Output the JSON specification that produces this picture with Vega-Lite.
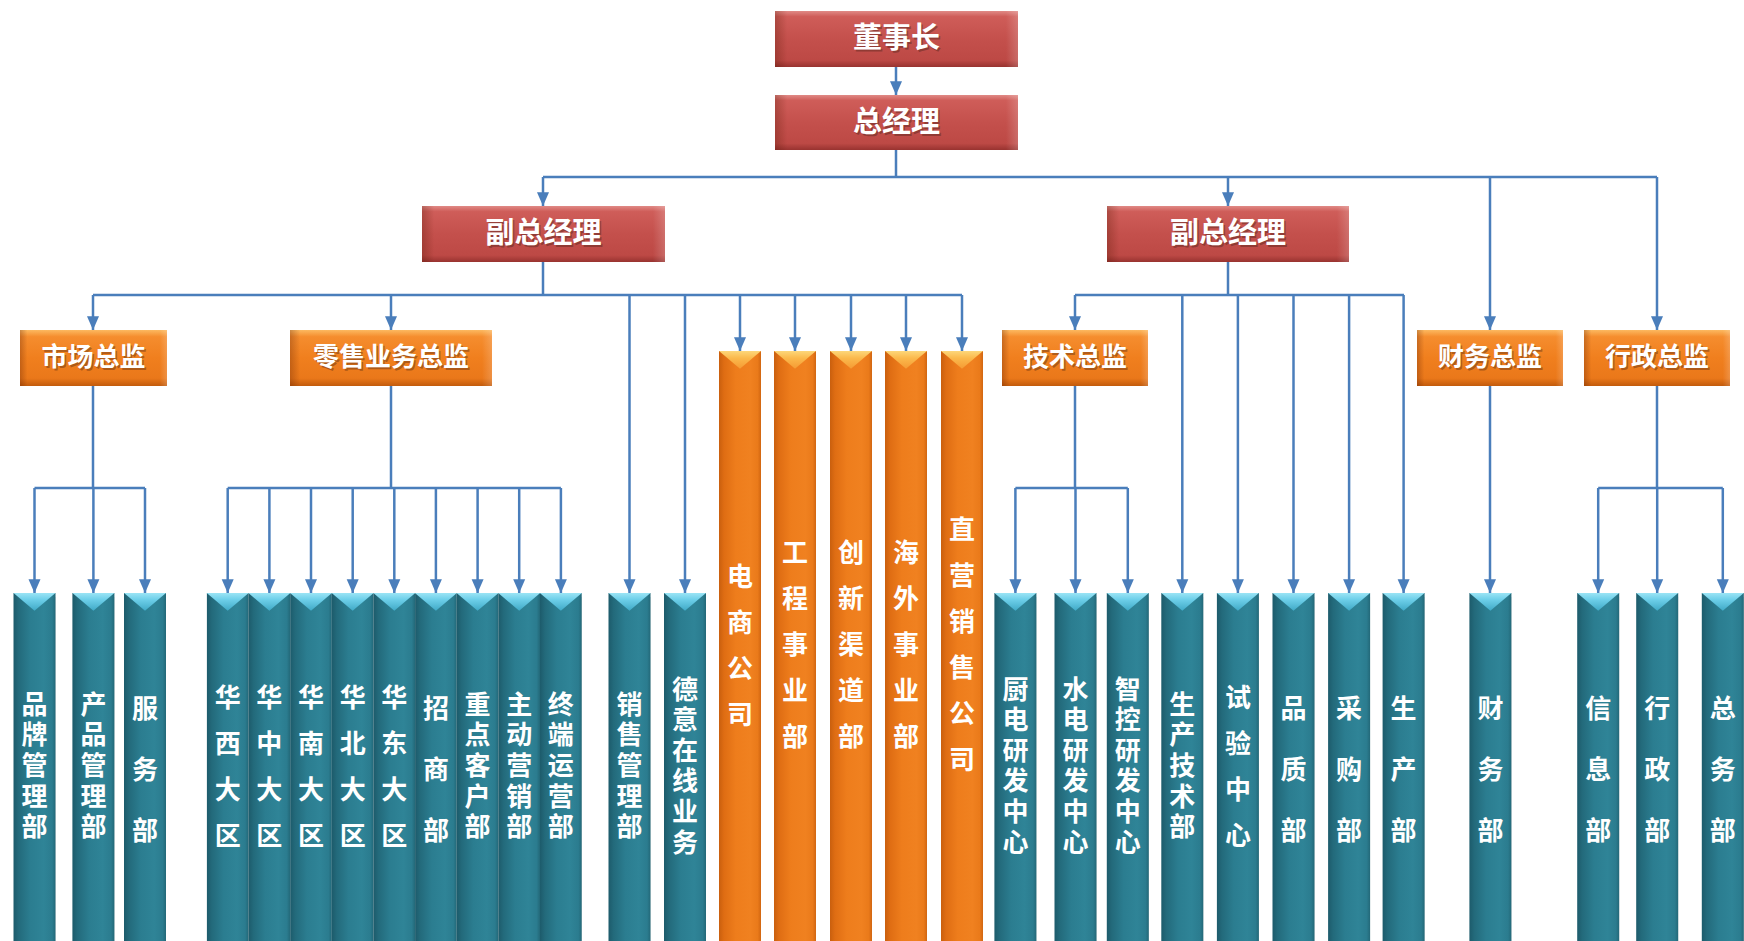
{
  "$schema": "https://vega.github.io/schema/vega-lite/v6.json",
  "autosize": {"type": "fit", "contains": "padding"},
  "width": 1744,
  "height": 941,
  "padding": 0,
  "background": "#ffffff",
  "config": {"view": {"stroke": null}},
  "datasets": {
    "nodes": [
      {"name": "董事长", "kind": "red", "x1": 775, "x2": 1018, "y1": 11, "y2": 67},
      {"name": "总经理", "kind": "red", "x1": 775, "x2": 1018, "y1": 95, "y2": 150},
      {"name": "副总经理", "kind": "red", "x1": 422, "x2": 665, "y1": 206, "y2": 262},
      {"name": "副总经理", "kind": "red", "x1": 1107, "x2": 1349, "y1": 206, "y2": 262},
      {"name": "市场总监", "kind": "obox", "x1": 20, "x2": 167, "y1": 330, "y2": 386},
      {"name": "零售业务总监", "kind": "obox", "x1": 290, "x2": 492, "y1": 330, "y2": 386},
      {"name": "技术总监", "kind": "obox", "x1": 1002, "x2": 1148, "y1": 330, "y2": 386},
      {"name": "财务总监", "kind": "obox", "x1": 1417, "x2": 1563, "y1": 330, "y2": 386},
      {"name": "行政总监", "kind": "obox", "x1": 1584, "x2": 1730, "y1": 330, "y2": 386},
      {"name": "电商公司", "kind": "obar", "x1": 719, "x2": 761, "y1": 351, "y2": 941},
      {"name": "工程事业部", "kind": "obar", "x1": 774, "x2": 816, "y1": 351, "y2": 941},
      {"name": "创新渠道部", "kind": "obar", "x1": 830, "x2": 872, "y1": 351, "y2": 941},
      {"name": "海外事业部", "kind": "obar", "x1": 885, "x2": 927, "y1": 351, "y2": 941},
      {"name": "直营销售公司", "kind": "obar", "x1": 941, "x2": 983, "y1": 351, "y2": 941},
      {"name": "品牌管理部", "kind": "tbar", "x1": 13.5, "x2": 55.5, "y1": 593, "y2": 941},
      {"name": "产品管理部", "kind": "tbar", "x1": 72.4, "x2": 114.4, "y1": 593, "y2": 941},
      {"name": "服务部", "kind": "tbar", "x1": 124, "x2": 166, "y1": 593, "y2": 941},
      {"name": "华西大区", "kind": "tbar", "x1": 206.9, "x2": 248.5, "y1": 593, "y2": 941},
      {"name": "华中大区", "kind": "tbar", "x1": 248.5, "x2": 290.2, "y1": 593, "y2": 941},
      {"name": "华南大区", "kind": "tbar", "x1": 290.2, "x2": 331.8, "y1": 593, "y2": 941},
      {"name": "华北大区", "kind": "tbar", "x1": 331.8, "x2": 373.5, "y1": 593, "y2": 941},
      {"name": "华东大区", "kind": "tbar", "x1": 373.5, "x2": 415.1, "y1": 593, "y2": 941},
      {"name": "招商部", "kind": "tbar", "x1": 415.1, "x2": 456.7, "y1": 593, "y2": 941},
      {"name": "重点客户部", "kind": "tbar", "x1": 456.7, "x2": 498.4, "y1": 593, "y2": 941},
      {"name": "主动营销部", "kind": "tbar", "x1": 498.4, "x2": 540.0, "y1": 593, "y2": 941},
      {"name": "终端运营部", "kind": "tbar", "x1": 540.0, "x2": 581.7, "y1": 593, "y2": 941},
      {"name": "销售管理部", "kind": "tbar", "x1": 608.5, "x2": 650.5, "y1": 593, "y2": 941},
      {"name": "德意在线业务", "kind": "tbar", "x1": 664, "x2": 706, "y1": 593, "y2": 941},
      {"name": "厨电研发中心", "kind": "tbar", "x1": 994.4, "x2": 1036.4, "y1": 593, "y2": 941},
      {"name": "水电研发中心", "kind": "tbar", "x1": 1054.5, "x2": 1096.5, "y1": 593, "y2": 941},
      {"name": "智控研发中心", "kind": "tbar", "x1": 1106.8, "x2": 1148.8, "y1": 593, "y2": 941},
      {"name": "生产技术部", "kind": "tbar", "x1": 1161.3, "x2": 1203.3, "y1": 593, "y2": 941},
      {"name": "试验中心", "kind": "tbar", "x1": 1216.9, "x2": 1258.9, "y1": 593, "y2": 941},
      {"name": "品质部", "kind": "tbar", "x1": 1272.5, "x2": 1314.5, "y1": 593, "y2": 941},
      {"name": "采购部", "kind": "tbar", "x1": 1328.1, "x2": 1370.1, "y1": 593, "y2": 941},
      {"name": "生产部", "kind": "tbar", "x1": 1382.6, "x2": 1424.6, "y1": 593, "y2": 941},
      {"name": "财务部", "kind": "tbar", "x1": 1469.4, "x2": 1511.4, "y1": 593, "y2": 941},
      {"name": "信息部", "kind": "tbar", "x1": 1577.2, "x2": 1619.2, "y1": 593, "y2": 941},
      {"name": "行政部", "kind": "tbar", "x1": 1636.2, "x2": 1678.2, "y1": 593, "y2": 941},
      {"name": "总务部", "kind": "tbar", "x1": 1701.8, "x2": 1743.8, "y1": 593, "y2": 941}
    ],
    "links": [
      {"x": 896, "y": 67, "x2": 896, "y2": 95, "a": 1},
      {"x": 896, "y": 150, "x2": 896, "y2": 177, "a": 0},
      {"x": 543, "y": 177, "x2": 1657, "y2": 177, "a": 0},
      {"x": 543, "y": 177, "x2": 543, "y2": 206, "a": 1},
      {"x": 1228, "y": 177, "x2": 1228, "y2": 206, "a": 1},
      {"x": 1490, "y": 177, "x2": 1490, "y2": 330, "a": 1},
      {"x": 1657, "y": 177, "x2": 1657, "y2": 330, "a": 1},
      {"x": 543, "y": 262, "x2": 543, "y2": 295, "a": 0},
      {"x": 93, "y": 295, "x2": 962, "y2": 295, "a": 0},
      {"x": 93, "y": 295, "x2": 93, "y2": 330, "a": 1},
      {"x": 391, "y": 295, "x2": 391, "y2": 330, "a": 1},
      {"x": 629.5, "y": 295, "x2": 629.5, "y2": 593, "a": 1},
      {"x": 685, "y": 295, "x2": 685, "y2": 593, "a": 1},
      {"x": 740, "y": 295, "x2": 740, "y2": 351, "a": 1},
      {"x": 795, "y": 295, "x2": 795, "y2": 351, "a": 1},
      {"x": 851, "y": 295, "x2": 851, "y2": 351, "a": 1},
      {"x": 906, "y": 295, "x2": 906, "y2": 351, "a": 1},
      {"x": 962, "y": 295, "x2": 962, "y2": 351, "a": 1},
      {"x": 1228, "y": 262, "x2": 1228, "y2": 295, "a": 0},
      {"x": 1075, "y": 295, "x2": 1404, "y2": 295, "a": 0},
      {"x": 1075, "y": 295, "x2": 1075, "y2": 330, "a": 1},
      {"x": 1182.3, "y": 295, "x2": 1182.3, "y2": 593, "a": 1},
      {"x": 1237.9, "y": 295, "x2": 1237.9, "y2": 593, "a": 1},
      {"x": 1293.5, "y": 295, "x2": 1293.5, "y2": 593, "a": 1},
      {"x": 1349.1, "y": 295, "x2": 1349.1, "y2": 593, "a": 1},
      {"x": 1403.6, "y": 295, "x2": 1403.6, "y2": 593, "a": 1},
      {"x": 93, "y": 386, "x2": 93, "y2": 488, "a": 0},
      {"x": 34.5, "y": 488, "x2": 145, "y2": 488, "a": 0},
      {"x": 34.5, "y": 488, "x2": 34.5, "y2": 593, "a": 1},
      {"x": 93.4, "y": 488, "x2": 93.4, "y2": 593, "a": 1},
      {"x": 145, "y": 488, "x2": 145, "y2": 593, "a": 1},
      {"x": 391, "y": 386, "x2": 391, "y2": 488, "a": 0},
      {"x": 227.7, "y": 488, "x2": 560.9, "y2": 488, "a": 0},
      {"x": 227.7, "y": 488, "x2": 227.7, "y2": 593, "a": 1},
      {"x": 269.4, "y": 488, "x2": 269.4, "y2": 593, "a": 1},
      {"x": 311, "y": 488, "x2": 311, "y2": 593, "a": 1},
      {"x": 352.7, "y": 488, "x2": 352.7, "y2": 593, "a": 1},
      {"x": 394.3, "y": 488, "x2": 394.3, "y2": 593, "a": 1},
      {"x": 435.9, "y": 488, "x2": 435.9, "y2": 593, "a": 1},
      {"x": 477.6, "y": 488, "x2": 477.6, "y2": 593, "a": 1},
      {"x": 519.2, "y": 488, "x2": 519.2, "y2": 593, "a": 1},
      {"x": 560.9, "y": 488, "x2": 560.9, "y2": 593, "a": 1},
      {"x": 1075, "y": 386, "x2": 1075, "y2": 488, "a": 0},
      {"x": 1015.4, "y": 488, "x2": 1127.8, "y2": 488, "a": 0},
      {"x": 1015.4, "y": 488, "x2": 1015.4, "y2": 593, "a": 1},
      {"x": 1075.5, "y": 488, "x2": 1075.5, "y2": 593, "a": 1},
      {"x": 1127.8, "y": 488, "x2": 1127.8, "y2": 593, "a": 1},
      {"x": 1490, "y": 386, "x2": 1490, "y2": 593, "a": 1},
      {"x": 1657, "y": 386, "x2": 1657, "y2": 488, "a": 0},
      {"x": 1598.2, "y": 488, "x2": 1722.8, "y2": 488, "a": 0},
      {"x": 1598.2, "y": 488, "x2": 1598.2, "y2": 593, "a": 1},
      {"x": 1657.2, "y": 488, "x2": 1657.2, "y2": 593, "a": 1},
      {"x": 1722.8, "y": 488, "x2": 1722.8, "y2": 593, "a": 1}
    ]
  },
  "layer": [
    {
      "data": {"name": "nodes"},
      "mark": {"type": "rect", "fill": "#000000", "opacity": 0.16, "xOffset": 3, "yOffset": 4},
      "encoding": {
        "x": {"field": "x1", "type": "quantitative", "scale": {"domain": [0, 1744], "nice": false, "zero": false}, "axis": null},
        "x2": {"field": "x2"},
        "y": {"field": "y1", "type": "quantitative", "scale": {"domain": [0, 941], "reverse": true, "nice": false, "zero": false}, "axis": null},
        "y2": {"field": "y2"}
      }
    },
    {
      "data": {"name": "links"},
      "mark": {"type": "rule", "color": "#4a7ebb", "strokeWidth": 2.5},
      "encoding": {
        "x": {"field": "x", "type": "quantitative", "scale": {"domain": [0, 1744], "nice": false, "zero": false}, "axis": null},
        "x2": {"field": "x2"},
        "y": {"field": "y", "type": "quantitative", "scale": {"domain": [0, 941], "reverse": true, "nice": false, "zero": false}, "axis": null},
        "y2": {"field": "y2"}
      }
    },
    {
      "data": {"name": "links"},
      "transform": [{"filter": "datum.a == 1"}],
      "mark": {"type": "point", "shape": "M-1,-2.3L1,-2.3L0,0Z", "size": 144, "filled": true, "color": "#4a7ebb", "opacity": 1},
      "encoding": {
        "x": {"field": "x2", "type": "quantitative", "scale": {"domain": [0, 1744], "nice": false, "zero": false}, "axis": null},
        "y": {"field": "y2", "type": "quantitative", "scale": {"domain": [0, 941], "reverse": true, "nice": false, "zero": false}, "axis": null}
      }
    },
    {
      "data": {"name": "nodes"},
      "transform": [{"filter": "datum.kind == 'red'"}],
      "mark": {"type": "rect", "fill": {"gradient": "linear", "x1": 0, "y1": 0, "x2": 0, "y2": 1, "stops": [
        {"offset": 0, "color": "#e08a86"}, {"offset": 0.1, "color": "#cf5d59"}, {"offset": 0.5, "color": "#c4504c"}, {"offset": 0.88, "color": "#bd4945"}, {"offset": 1, "color": "#983330"}]}},
      "encoding": {
        "x": {"field": "x1", "type": "quantitative", "scale": {"domain": [0, 1744], "nice": false, "zero": false}, "axis": null},
        "x2": {"field": "x2"},
        "y": {"field": "y1", "type": "quantitative", "scale": {"domain": [0, 941], "reverse": true, "nice": false, "zero": false}, "axis": null},
        "y2": {"field": "y2"}
      }
    },
    {
      "data": {"name": "nodes"},
      "transform": [{"filter": "datum.kind == 'obox'"}],
      "mark": {"type": "rect", "fill": {"gradient": "linear", "x1": 0, "y1": 0, "x2": 0, "y2": 1, "stops": [
        {"offset": 0, "color": "#fcb960"}, {"offset": 0.12, "color": "#f58d2e"}, {"offset": 0.5, "color": "#f07f1e"}, {"offset": 0.86, "color": "#ea781a"}, {"offset": 1, "color": "#c25b0c"}]}},
      "encoding": {
        "x": {"field": "x1", "type": "quantitative", "scale": {"domain": [0, 1744], "nice": false, "zero": false}, "axis": null},
        "x2": {"field": "x2"},
        "y": {"field": "y1", "type": "quantitative", "scale": {"domain": [0, 941], "reverse": true, "nice": false, "zero": false}, "axis": null},
        "y2": {"field": "y2"}
      }
    },
    {
      "data": {"name": "nodes"},
      "transform": [{"filter": "datum.kind == 'red' || datum.kind == 'obox'"}],
      "mark": {"type": "rect", "fill": {"gradient": "linear", "x1": 0, "y1": 0, "x2": 1, "y2": 0, "stops": [
        {"offset": 0, "color": "rgba(80,20,0,0.28)"}, {"offset": 0.05, "color": "rgba(80,20,0,0)"}, {"offset": 0.95, "color": "rgba(255,255,255,0)"}, {"offset": 1, "color": "rgba(255,255,255,0.18)"}]}},
      "encoding": {
        "x": {"field": "x1", "type": "quantitative", "scale": {"domain": [0, 1744], "nice": false, "zero": false}, "axis": null},
        "x2": {"field": "x2"},
        "y": {"field": "y1", "type": "quantitative", "scale": {"domain": [0, 941], "reverse": true, "nice": false, "zero": false}, "axis": null},
        "y2": {"field": "y2"}
      }
    },
    {
      "data": {"name": "nodes"},
      "transform": [{"filter": "datum.kind == 'obar'"}],
      "mark": {"type": "rect", "fill": {"gradient": "linear", "x1": 0, "y1": 0, "x2": 1, "y2": 0, "stops": [
        {"offset": 0, "color": "#c95f0e"}, {"offset": 0.12, "color": "#df6d13"}, {"offset": 0.4, "color": "#ee7d1c"}, {"offset": 0.75, "color": "#f08120"}, {"offset": 0.92, "color": "#ea7a1a"}, {"offset": 1, "color": "#d16611"}]}},
      "encoding": {
        "x": {"field": "x1", "type": "quantitative", "scale": {"domain": [0, 1744], "nice": false, "zero": false}, "axis": null},
        "x2": {"field": "x2"},
        "y": {"field": "y1", "type": "quantitative", "scale": {"domain": [0, 941], "reverse": true, "nice": false, "zero": false}, "axis": null},
        "y2": {"field": "y2"}
      }
    },
    {
      "data": {"name": "nodes"},
      "transform": [{"filter": "datum.kind == 'tbar'"}],
      "mark": {"type": "rect", "fill": {"gradient": "linear", "x1": 0, "y1": 0, "x2": 1, "y2": 0, "stops": [
        {"offset": 0, "color": "#1d5b6b"}, {"offset": 0.12, "color": "#236a7b"}, {"offset": 0.4, "color": "#2b7d90"}, {"offset": 0.72, "color": "#2f8497"}, {"offset": 0.92, "color": "#2b7c8f"}, {"offset": 1, "color": "#236878"}]}},
      "encoding": {
        "x": {"field": "x1", "type": "quantitative", "scale": {"domain": [0, 1744], "nice": false, "zero": false}, "axis": null},
        "x2": {"field": "x2"},
        "y": {"field": "y1", "type": "quantitative", "scale": {"domain": [0, 941], "reverse": true, "nice": false, "zero": false}, "axis": null},
        "y2": {"field": "y2"}
      }
    },
    {
      "data": {"name": "nodes"},
      "transform": [{"filter": "datum.kind == 'tbar'"}, {"calculate": "(datum.x1 + datum.x2) / 2", "as": "cx"}],
      "mark": {"type": "point", "shape": "M-1,0L1,0L0,0.85Z", "size": 1764, "filled": true, "opacity": 1, "fill": {"gradient": "linear", "x1": 0, "y1": 0, "x2": 0, "y2": 1, "stops": [
        {"offset": 0, "color": "#9be4f5"}, {"offset": 0.35, "color": "#6fd0ea"}, {"offset": 1, "color": "#3fa9c6"}]}},
      "encoding": {
        "x": {"field": "cx", "type": "quantitative", "scale": {"domain": [0, 1744], "nice": false, "zero": false}, "axis": null},
        "y": {"field": "y1", "type": "quantitative", "scale": {"domain": [0, 941], "reverse": true, "nice": false, "zero": false}, "axis": null}
      }
    },
    {
      "data": {"name": "nodes"},
      "transform": [{"filter": "datum.kind == 'obar'"}, {"calculate": "(datum.x1 + datum.x2) / 2", "as": "cx"}],
      "mark": {"type": "point", "shape": "M-1,0L1,0L0,0.85Z", "size": 1764, "filled": true, "opacity": 1, "fill": {"gradient": "linear", "x1": 0, "y1": 0, "x2": 0, "y2": 1, "stops": [
        {"offset": 0, "color": "#fdd77a"}, {"offset": 0.4, "color": "#fbb94c"}, {"offset": 1, "color": "#f59a33"}]}},
      "encoding": {
        "x": {"field": "cx", "type": "quantitative", "scale": {"domain": [0, 1744], "nice": false, "zero": false}, "axis": null},
        "y": {"field": "y1", "type": "quantitative", "scale": {"domain": [0, 941], "reverse": true, "nice": false, "zero": false}, "axis": null}
      }
    },
    {
      "data": {"name": "nodes"},
      "transform": [{"filter": "datum.kind == 'red' || datum.kind == 'obox'"}, {"calculate": "(datum.x1 + datum.x2) / 2", "as": "cx"}, {"calculate": "(datum.y1 + datum.y2) / 2", "as": "cy"}],
      "mark": {"type": "text", "font": "Noto Sans CJK SC", "fontWeight": "bold", "baseline": "middle", "align": "center", "color": "#3a1a10", "opacity": 0.35, "dx": 1.5, "dy": 2},
      "encoding": {
        "x": {"field": "cx", "type": "quantitative", "scale": {"domain": [0, 1744], "nice": false, "zero": false}, "axis": null},
        "y": {"field": "cy", "type": "quantitative", "scale": {"domain": [0, 941], "reverse": true, "nice": false, "zero": false}, "axis": null},
        "text": {"field": "name"},
        "size": {"field": "kind", "type": "nominal", "scale": {"domain": ["red", "obox"], "range": [29, 26]}, "legend": null}
      }
    },
    {
      "data": {"name": "nodes"},
      "transform": [{"filter": "datum.kind == 'red' || datum.kind == 'obox'"}, {"calculate": "(datum.x1 + datum.x2) / 2", "as": "cx"}, {"calculate": "(datum.y1 + datum.y2) / 2", "as": "cy"}],
      "mark": {"type": "text", "font": "Noto Sans CJK SC", "fontWeight": "bold", "baseline": "middle", "align": "center", "color": "#ffffff"},
      "encoding": {
        "x": {"field": "cx", "type": "quantitative", "scale": {"domain": [0, 1744], "nice": false, "zero": false}, "axis": null},
        "y": {"field": "cy", "type": "quantitative", "scale": {"domain": [0, 941], "reverse": true, "nice": false, "zero": false}, "axis": null},
        "text": {"field": "name"},
        "size": {"field": "kind", "type": "nominal", "scale": {"domain": ["red", "obox"], "range": [29, 26]}, "legend": null}
      }
    },
    {
      "data": {"name": "nodes"},
      "transform": [{"filter": "datum.kind == 'tbar' && length(datum.name) == 3"}, {"calculate": "(datum.x1 + datum.x2) / 2", "as": "cx"}, {"calculate": "(datum.y1 + datum.y2) / 2", "as": "cy"}, {"calculate": "split(datum.name, '')", "as": "chars"}],
      "mark": {"type": "text", "font": "Noto Sans CJK SC", "fontWeight": "bold", "fontSize": 26, "lineHeight": 61, "dy": -57, "baseline": "middle", "align": "center", "color": "#ffffff"},
      "encoding": {
        "x": {"field": "cx", "type": "quantitative", "scale": {"domain": [0, 1744], "nice": false, "zero": false}, "axis": null},
        "y": {"field": "cy", "type": "quantitative", "scale": {"domain": [0, 941], "reverse": true, "nice": false, "zero": false}, "axis": null},
        "text": {"field": "chars"}
      }
    },
    {
      "data": {"name": "nodes"},
      "transform": [{"filter": "length(datum.name) == 4 && (datum.kind == 'tbar' || datum.kind == 'obar')"}, {"calculate": "(datum.x1 + datum.x2) / 2", "as": "cx"}, {"calculate": "(datum.y1 + datum.y2) / 2", "as": "cy"}, {"calculate": "split(datum.name, '')", "as": "chars"}],
      "mark": {"type": "text", "font": "Noto Sans CJK SC", "fontWeight": "bold", "fontSize": 26, "lineHeight": 46, "dy": -68, "baseline": "middle", "align": "center", "color": "#ffffff"},
      "encoding": {
        "x": {"field": "cx", "type": "quantitative", "scale": {"domain": [0, 1744], "nice": false, "zero": false}, "axis": null},
        "y": {"field": "cy", "type": "quantitative", "scale": {"domain": [0, 941], "reverse": true, "nice": false, "zero": false}, "axis": null},
        "text": {"field": "chars"}
      }
    },
    {
      "data": {"name": "nodes"},
      "transform": [{"filter": "datum.kind == 'tbar' && length(datum.name) == 5"}, {"calculate": "(datum.x1 + datum.x2) / 2", "as": "cx"}, {"calculate": "(datum.y1 + datum.y2) / 2", "as": "cy"}, {"calculate": "split(datum.name, '')", "as": "chars"}],
      "mark": {"type": "text", "font": "Noto Sans CJK SC", "fontWeight": "bold", "fontSize": 26, "lineHeight": 30.6, "dy": -61.2, "baseline": "middle", "align": "center", "color": "#ffffff"},
      "encoding": {
        "x": {"field": "cx", "type": "quantitative", "scale": {"domain": [0, 1744], "nice": false, "zero": false}, "axis": null},
        "y": {"field": "cy", "type": "quantitative", "scale": {"domain": [0, 941], "reverse": true, "nice": false, "zero": false}, "axis": null},
        "text": {"field": "chars"}
      }
    },
    {
      "data": {"name": "nodes"},
      "transform": [{"filter": "datum.kind == 'tbar' && length(datum.name) == 6"}, {"calculate": "(datum.x1 + datum.x2) / 2", "as": "cx"}, {"calculate": "(datum.y1 + datum.y2) / 2", "as": "cy"}, {"calculate": "split(datum.name, '')", "as": "chars"}],
      "mark": {"type": "text", "font": "Noto Sans CJK SC", "fontWeight": "bold", "fontSize": 26, "lineHeight": 30.6, "dy": -76.5, "baseline": "middle", "align": "center", "color": "#ffffff"},
      "encoding": {
        "x": {"field": "cx", "type": "quantitative", "scale": {"domain": [0, 1744], "nice": false, "zero": false}, "axis": null},
        "y": {"field": "cy", "type": "quantitative", "scale": {"domain": [0, 941], "reverse": true, "nice": false, "zero": false}, "axis": null},
        "text": {"field": "chars"}
      }
    },
    {
      "data": {"name": "nodes"},
      "transform": [{"filter": "datum.kind == 'obar' && length(datum.name) == 5"}, {"calculate": "(datum.x1 + datum.x2) / 2", "as": "cx"}, {"calculate": "(datum.y1 + datum.y2) / 2", "as": "cy"}, {"calculate": "split(datum.name, '')", "as": "chars"}],
      "mark": {"type": "text", "font": "Noto Sans CJK SC", "fontWeight": "bold", "fontSize": 26, "lineHeight": 46, "dy": -92, "baseline": "middle", "align": "center", "color": "#ffffff"},
      "encoding": {
        "x": {"field": "cx", "type": "quantitative", "scale": {"domain": [0, 1744], "nice": false, "zero": false}, "axis": null},
        "y": {"field": "cy", "type": "quantitative", "scale": {"domain": [0, 941], "reverse": true, "nice": false, "zero": false}, "axis": null},
        "text": {"field": "chars"}
      }
    },
    {
      "data": {"name": "nodes"},
      "transform": [{"filter": "datum.kind == 'obar' && length(datum.name) == 6"}, {"calculate": "(datum.x1 + datum.x2) / 2", "as": "cx"}, {"calculate": "(datum.y1 + datum.y2) / 2", "as": "cy"}, {"calculate": "split(datum.name, '')", "as": "chars"}],
      "mark": {"type": "text", "font": "Noto Sans CJK SC", "fontWeight": "bold", "fontSize": 26, "lineHeight": 46, "dy": -115, "baseline": "middle", "align": "center", "color": "#ffffff"},
      "encoding": {
        "x": {"field": "cx", "type": "quantitative", "scale": {"domain": [0, 1744], "nice": false, "zero": false}, "axis": null},
        "y": {"field": "cy", "type": "quantitative", "scale": {"domain": [0, 941], "reverse": true, "nice": false, "zero": false}, "axis": null},
        "text": {"field": "chars"}
      }
    }
  ]
}
